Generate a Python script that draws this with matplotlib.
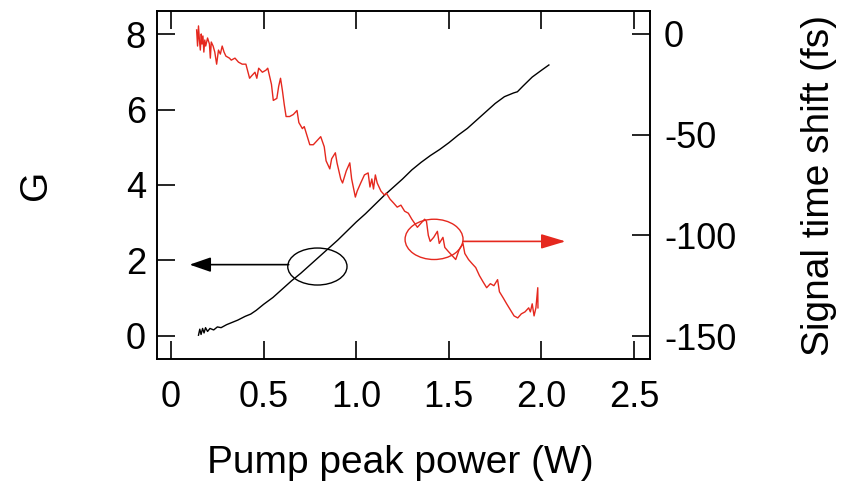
import matplotlib
matplotlib.use("Agg")
import matplotlib.pyplot as plt
from matplotlib.patches import Ellipse

plt.rcParams['font.family'] = ['Liberation Sans', 'DejaVu Sans']
plt.rcParams['axes.unicode_minus'] = False

# ---- data ----
power_g = [0.148, 0.155, 0.162, 0.170, 0.178, 0.186, 0.197, 0.21, 0.23, 0.25, 0.27, 0.30,
           0.33, 0.36, 0.40, 0.43, 0.46, 0.50, 0.55, 0.60, 0.65, 0.70, 0.75, 0.80,
           0.85, 0.90, 0.95, 1.00, 1.05, 1.10, 1.15, 1.20, 1.25, 1.30, 1.35, 1.40,
           1.45, 1.50, 1.55, 1.60, 1.65, 1.70, 1.75, 1.80, 1.85, 1.87, 1.90, 1.95,
           2.00, 2.04]
gain = [0.02, 0.18, 0.04, 0.20, 0.08, 0.22, 0.12, 0.20, 0.16, 0.24, 0.22, 0.30,
        0.36, 0.42, 0.52, 0.58, 0.68, 0.84, 1.02, 1.24, 1.46, 1.66, 1.88, 2.10,
        2.32, 2.54, 2.78, 3.02, 3.24, 3.48, 3.72, 3.94, 4.16, 4.40, 4.60, 4.78,
        4.94, 5.12, 5.32, 5.50, 5.72, 5.94, 6.16, 6.34, 6.44, 6.47, 6.62, 6.86,
        7.04, 7.18]

power_t = [0.138, 0.143, 0.148, 0.153, 0.158, 0.163, 0.167, 0.172, 0.177, 0.182,
           0.187, 0.197, 0.207, 0.212, 0.217, 0.227, 0.236, 0.246, 0.256, 0.266,
           0.276, 0.286, 0.296, 0.315, 0.325, 0.345, 0.364, 0.384, 0.404, 0.424,
           0.433, 0.453, 0.463, 0.473, 0.493, 0.512, 0.522, 0.542, 0.552, 0.571,
           0.581, 0.591, 0.601, 0.611, 0.621, 0.640, 0.660, 0.680, 0.690, 0.709,
           0.719, 0.739, 0.749, 0.768, 0.788, 0.808, 0.827, 0.837, 0.857, 0.867,
           0.887, 0.896, 0.916, 0.926, 0.946, 0.965, 0.975, 0.995, 1.005, 1.024,
           1.044, 1.064, 1.074, 1.084, 1.093, 1.103, 1.113, 1.133, 1.152, 1.162,
           1.182, 1.202, 1.221, 1.241, 1.261, 1.281, 1.300, 1.330, 1.349, 1.369,
           1.379, 1.389, 1.399, 1.418, 1.438, 1.448, 1.468, 1.478, 1.497, 1.517,
           1.537, 1.556, 1.576, 1.586, 1.606, 1.625, 1.645, 1.665, 1.684, 1.704,
           1.724, 1.743, 1.763, 1.773, 1.793, 1.812, 1.832, 1.852, 1.872, 1.891,
           1.911, 1.931, 1.940, 1.950, 1.960, 1.970, 1.980, 1.981]
shift = [2, -6, 4, -3, -8, 0, -5, -1, -9, -3,
         -6, -2, -5, -12, -4, -6, -9, -15, -8, -10,
         -6, -9, -11, -12, -13, -12, -14, -15, -15, -22,
         -21, -19, -22, -17, -19, -18, -17, -25, -33, -32,
         -26, -22, -28, -35, -41, -41, -40, -38, -44, -47,
         -46, -52, -55, -55, -53, -51, -56, -63, -67, -62,
         -59, -64, -72, -74, -68, -64, -72, -81, -78, -74,
         -70, -69, -76, -72, -77, -70, -74, -78, -80, -79,
         -82, -84, -86, -85, -88, -89, -92, -96, -94, -92,
         -93, -100, -103, -101, -98, -104, -101, -106, -108, -110,
         -112, -107, -104, -109, -112, -114, -116, -120, -123, -126,
         -124, -125, -122, -128, -131, -134, -137, -140, -141, -139,
         -138, -136, -138, -134, -140, -136, -126, -136]

x_ticks = [0, 0.5, 1.0, 1.5, 2.0, 2.5]
x_tick_labels = ['0', '0.5', '1.0', '1.5', '2.0', '2.5']
g_ticks = [0, 2, 4, 6, 8]
t_ticks = [0, -50, -100, -150]

red = '#e5281e'

fig = plt.figure(figsize=(8.48, 4.83), dpi=100)
ax = fig.add_axes([157/848, 124/483, 493/848, 348/483])
ax2 = ax.twinx()

ax.plot(power_g, gain, color='black', lw=1.0, zorder=3)
ax2.plot(power_t, shift, color=red, lw=1.0, zorder=3)

ax.set_xlim(-0.076, 2.586)
ax.set_ylim(-0.61, 8.61)
ax2.set_ylim(-161.4, 11.4)

# annotations: ellipses + arrows
ax.add_patch(Ellipse((0.79, 1.84), 0.32, 0.98, fill=False, edgecolor='black', lw=1.0, zorder=4))
ax.annotate('', xy=(0.10, 1.89), xytext=(0.635, 1.89),
            arrowprops=dict(arrowstyle='-|>,head_length=1.3,head_width=0.45',
                            color='black', lw=1.2, shrinkA=0, shrinkB=0),
            zorder=4)
ax2.add_patch(Ellipse((1.42, -102), 0.313, 20, fill=False, edgecolor=red, lw=1.0, zorder=4))
ax2.annotate('', xy=(2.13, -103), xytext=(1.576, -103),
             arrowprops=dict(arrowstyle='-|>,head_length=1.5,head_width=0.45',
                             color=red, lw=1.2, shrinkA=0, shrinkB=0),
             zorder=4)

fs_tick = 26
fs_lab = 28

ax.set_xticks(x_ticks)
ax.set_xticklabels(x_tick_labels)
ax.set_yticks(g_ticks)
ax2.set_yticks(t_ticks)

ax.tick_params(axis='x', direction='in', length=13, width=1.2, top=True, bottom=True,
               labelsize=fs_tick, pad=15)
ax.tick_params(axis='y', direction='in', length=13, width=1.2, left=True, right=False,
               labelsize=fs_tick, pad=8)
ax2.tick_params(axis='y', direction='in', length=13, width=1.2, right=True, left=False,
                labelsize=fs_tick, pad=10)
ax2.tick_params(axis='x', top=False, bottom=False, labeltop=False, labelbottom=False)

for a in (ax, ax2):
    for s in a.spines.values():
        s.set_linewidth(1.2)
        s.set_color('black')

ax.set_xlabel('Pump peak power (W)', fontsize=fs_lab, va='center')
ax.xaxis.set_label_coords(0.493, -0.30)
ax.set_ylabel('G', fontsize=fs_lab, va='center')
ax.yaxis.set_label_coords(-0.245, 0.50)
ax2.set_ylabel('Signal time shift (fs)', fontsize=fs_lab, va='center')
ax2.yaxis.set_label_coords(1.342, 0.50)

fig.savefig('out.png', dpi=100)
